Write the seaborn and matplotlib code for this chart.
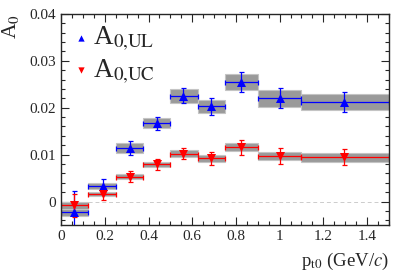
import numpy as np
import pandas as pd
import matplotlib
matplotlib.use("Agg")
import matplotlib.pyplot as plt
import seaborn as sns

# ---- data ----
bin_lo = [0.0, 0.125, 0.25, 0.375, 0.5, 0.625, 0.75, 0.9, 1.1]
bin_hi = [0.125, 0.25, 0.375, 0.5, 0.625, 0.75, 0.9, 1.1, 1.5]
pt_mean = [0.06, 0.19, 0.315, 0.438, 0.56, 0.686, 0.823, 1.0, 1.297]

ul_val = [-0.0022, 0.0033, 0.0114, 0.0167, 0.0225, 0.0203, 0.0255, 0.0220, 0.0212]
ul_stat = [0.0045, 0.0016, 0.0015, 0.0014, 0.0016, 0.0018, 0.0022, 0.0021, 0.0021]
ul_sys = [0.0008, 0.0006, 0.0010, 0.0010, 0.0014, 0.0014, 0.0017, 0.0018, 0.0017]

uc_val = [-0.0008, 0.0016, 0.0053, 0.0079, 0.0102, 0.0092, 0.0116, 0.0097, 0.0094]
uc_stat = [0.0024, 0.0012, 0.0012, 0.0011, 0.0012, 0.0014, 0.0016, 0.0017, 0.0017]
uc_sys = [0.0007, 0.0005, 0.0005, 0.0005, 0.0007, 0.0007, 0.0009, 0.0008, 0.0009]

x_ticks = [0, 0.2, 0.4, 0.6, 0.8, 1.0, 1.2, 1.4]
x_ticklabels = ["0", "0.2", "0.4", "0.6", "0.8", "1", "1.2", "1.4"]
y_ticks = [0, 0.01, 0.02, 0.03, 0.04]
y_ticklabels = ["0", "0.01", "0.02", "0.03", "0.04"]

sns.set_style("ticks")
plt.rcParams["font.family"] = ["Liberation Serif", "DejaVu Serif"]
plt.rcParams["mathtext.fontset"] = "stix"

fig = plt.figure(figsize=(4.05, 2.73), dpi=100)
ax = fig.add_axes([0.151, 0.176, 0.809, 0.773])

lo = np.array(bin_lo)
hi = np.array(bin_hi)
xm = np.array(pt_mean)

series = [
    ("UL", ul_val, ul_stat, ul_sys, "#0000ff", "^", r"A$_{\rm 0{,}UL}$"),
    ("UC", uc_val, uc_stat, uc_sys, "#ff0000", "v", r"A$_{\rm 0{,}UC}$"),
]

ax.axhline(0, color="#cccccc", lw=0.7, ls=(0, (4, 3)), zorder=0)

# systematic boxes
for name, val, stat, sys_, col, mk, lab in series:
    v = np.array(val)
    s = np.array(sys_)
    ax.bar(lo, 2 * s, width=hi - lo, bottom=v - s, align="edge",
           color="#9a9a9a", edgecolor="#c4c4c4", linewidth=0.8, zorder=1)

# error bars
for name, val, stat, sys_, col, mk, lab in series:
    v = np.array(val)
    ax.errorbar(xm, v, yerr=np.array(stat), xerr=[xm - lo, hi - xm], fmt="none",
                ecolor=col, elinewidth=0.9, capsize=1.8, capthick=0.9, zorder=2)

# markers via seaborn
for name, val, stat, sys_, col, mk, lab in series:
    df = pd.DataFrame({"pt": pt_mean, "A": val})
    sns.scatterplot(data=df, x="pt", y="A", marker=mk, color=col, s=42,
                    edgecolor=col, linewidth=0, ax=ax, zorder=3, label=lab)

ax.set_xlim(0, 1.5)
ax.set_ylim(-0.005, 0.04)
ax.set_xticks(x_ticks)
ax.set_xticklabels(x_ticklabels)
ax.set_yticks(y_ticks)
ax.set_yticklabels(y_ticklabels)
ax.xaxis.set_minor_locator(matplotlib.ticker.MultipleLocator(0.05))
ax.yaxis.set_minor_locator(matplotlib.ticker.MultipleLocator(0.002))
ax.tick_params(which="both", direction="in", top=True, right=True, labelsize=11, pad=3.5)
ax.tick_params(which="major", length=6, width=0.8)
ax.tick_params(which="minor", length=3, width=0.8)
for sp in ax.spines.values():
    sp.set_linewidth(1.0)

ax.set_xlabel(r"p$_{\rm t0}$ (GeV/$c$)", fontsize=13.5, loc="right", labelpad=6)
ax.set_ylabel(r"A$_{\rm 0}$", fontsize=15.5, loc="top")
ax.yaxis.set_label_coords(-0.124, 1.0)

leg = ax.legend(loc="upper left", frameon=False, fontsize=19.5, handletextpad=0.15,
                handlelength=0.6, markerscale=0.7, borderaxespad=0.0, borderpad=0.0,
                labelspacing=0.15, bbox_to_anchor=(0.036, 0.947))

fig.savefig("out.png", dpi=100)
